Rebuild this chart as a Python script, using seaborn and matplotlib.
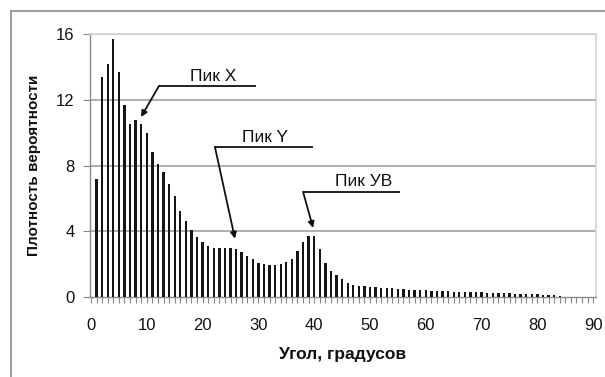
import numpy as np
import pandas as pd
import matplotlib
matplotlib.use("Agg")
import matplotlib.pyplot as plt
from matplotlib.patches import Rectangle
import seaborn as sns

# ---- data ----
angles = list(range(1, 90))
density = [
    7.2, 13.4, 14.15, 15.7, 13.67, 11.7, 10.5, 10.76, 10.5, 9.95,      # 1-10
    8.8, 8.08, 7.6, 6.9, 6.15, 5.24, 4.63, 4.06, 3.65, 3.35,           # 11-20
    3.12, 3.0, 3.0, 3.0, 3.0, 2.95, 2.72, 2.5, 2.29, 2.09,             # 21-30
    1.99, 1.95, 1.95, 1.99, 2.15, 2.33, 2.8, 3.35, 3.71, 3.71,         # 31-40
    2.9, 2.09, 1.58, 1.34, 1.12, 0.87, 0.75, 0.68, 0.66, 0.63,         # 41-50
    0.6, 0.57, 0.54, 0.52, 0.5, 0.47, 0.45, 0.43, 0.41, 0.4,           # 51-60
    0.38, 0.37, 0.35, 0.34, 0.33, 0.32, 0.31, 0.3, 0.29, 0.28,         # 61-70
    0.27, 0.27, 0.26, 0.25, 0.22, 0.18, 0.17, 0.17, 0.16, 0.16,        # 71-80
    0.15, 0.14, 0.1, 0.05, 0.02, 0.02, 0.02, 0.02, 0.02,               # 81-89
]
x_ticks = [0, 10, 20, 30, 40, 50, 60, 70, 80, 90]
y_ticks = [0, 4, 8, 12, 16]
x_label = "Угол, градусов"
y_label = "Плотность вероятности"

peak_labels = ["Пик X", "Пик Y", "Пик УВ"]
peak_text_xy = [(21.9, 13.4), (31.2, 9.72), (48.8, 7.0)]
peak_line_y = [12.85, 9.14, 6.4]
peak_line_x = [(12.2, 29.6), (22.2, 39.8), (38.0, 55.4)]
peak_tip = [(8.96, 10.95), (25.8, 3.55), (39.8, 4.2)]

df = pd.DataFrame({"angle": angles, "density": density})

sns.set_theme(style="white")
plt.rcParams["font.family"] = ["Liberation Sans", "DejaVu Sans"]

fig = plt.figure(figsize=(6.05, 3.77), dpi=100)
ax = fig.add_axes([90 / 605, (377 - 297) / 377, 506 / 605, (297 - 34) / 377])

sns.barplot(data=df, x="angle", y="density", native_scale=True, width=0.42,
            color="#151515", saturation=1, edgecolor="none", ax=ax, zorder=3)

ax.set_xlim(-0.18, 90.5)
ax.set_ylim(0, 16)
ax.set_xticks(x_ticks)
ax.set_xticks(np.arange(0, 91, 1), minor=True)
ax.set_yticks(y_ticks)
ax.set_xticklabels([str(t) for t in x_ticks], fontsize=12)
ax.set_yticklabels([str(t) for t in y_ticks], fontsize=12)

for yv in y_ticks[1:]:
    ax.axhline(yv, color="#a8a8a8", lw=1.3, zorder=1)

ax.tick_params(axis="x", which="major", length=4, width=0.8, color="#888888",
               pad=11, labelcolor="#111111", bottom=True)
ax.tick_params(axis="x", which="minor", length=4, width=0.8, color="#888888", bottom=True)
ax.tick_params(axis="y", which="major", length=5, width=0.8, color="#888888",
               pad=6, labelcolor="#111111", left=True)

for side in ["left", "bottom"]:
    ax.spines[side].set_color("#8a8a8a")
    ax.spines[side].set_linewidth(1.0)
for side in ["top", "right"]:
    ax.spines[side].set_color("#d4d4d4")
    ax.spines[side].set_linewidth(1.2)

ax.set_xlabel(x_label, fontsize=12.5, fontweight="bold", color="#111111", labelpad=10)
ax.set_ylabel(y_label, fontsize=11, fontweight="bold", color="#111111", labelpad=11)

for lab, txy, ly, (lx0, lx1), tip in zip(peak_labels, peak_text_xy, peak_line_y,
                                          peak_line_x, peak_tip):
    ax.text(txy[0], txy[1], lab, ha="center", va="center", fontsize=12.5,
            color="#111111", zorder=5)
    ax.plot([lx0, lx1], [ly, ly], color="#111111", lw=1.3, zorder=5,
            solid_capstyle="butt")
    ax.annotate("", xy=tip, xytext=(lx0, ly),
                arrowprops=dict(arrowstyle="-|>", color="#111111", lw=1.3,
                                mutation_scale=9, shrinkA=0, shrinkB=0),
                zorder=5)

# outer chart border (partially cut off at right/bottom)
fig.patches.append(Rectangle((11 / 605, -0.05), 1.2, (366 / 377) + 0.05,
                             transform=fig.transFigure, fill=False,
                             edgecolor="#a0a0a0", lw=1.5, zorder=0))

fig.savefig("out.png", dpi=100)
